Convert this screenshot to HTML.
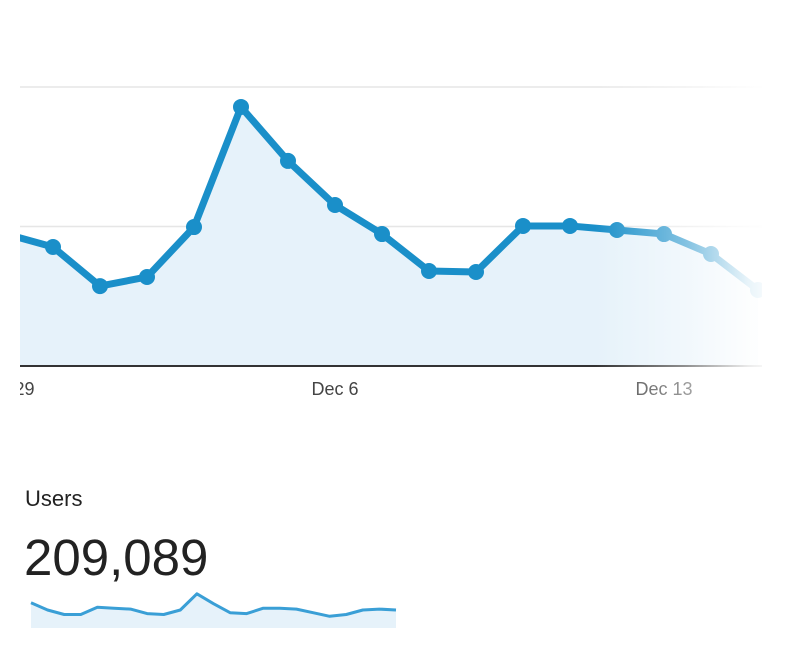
<!DOCTYPE html>
<html><head><meta charset="utf-8"><style>
html,body{margin:0;padding:0;background:#fff;width:800px;height:661px;overflow:hidden;font-family:"Liberation Sans",sans-serif}
</style></head><body>
<svg width="800" height="661" viewBox="0 0 800 661">
<defs>
<clipPath id="clipMain"><rect x="20" y="0" width="742" height="400"/></clipPath>
<linearGradient id="fade" x1="0" x2="1" y1="0" y2="0">
<stop offset="0" stop-color="#fff" stop-opacity="0"/>
<stop offset="0.5" stop-color="#fff" stop-opacity="0.45"/>
<stop offset="0.85" stop-color="#fff" stop-opacity="0.9"/>
<stop offset="1" stop-color="#fff" stop-opacity="1"/>
</linearGradient>
</defs>
<g id="main" clip-path="url(#clipMain)"></g>
<g id="xlabels"></g>
<rect x="595" y="60" width="180" height="345" fill="url(#fade)"/>
<text x="25" y="506" font-size="22" fill="#222">Users</text>
<text x="24" y="575" font-size="51" fill="#222">209,089</text>
<g id="spark"></g>
</svg>
<script>
const mainValues=[946,853,573,638,996,1857,1470,1154,946,681,674,1004,1004,975,946,803,545];
const gridValues=[1000,2000];
const tickLabels=["Nov 29","Dec 6","Dec 13"];
const tickIndex=[0,7,14];
const sparkValues=[28,20,15,15,23,22,21,16,15,20,38,27,17,16,22,22,21,17,13,15,20,21,20];

const NS="http://www.w3.org/2000/svg";
function mk(tag,attrs,parent){const e=document.createElementNS(NS,tag);for(const k in attrs)e.setAttribute(k,attrs[k]);parent.appendChild(e);return e;}
const xS=i=>6+47*i;
const yS=v=>366-v*0.1395;
const main=document.getElementById('main');
gridValues.forEach(g=>{
  const l=mk('line',{x1:20,x2:765,y1:yS(g),y2:yS(g),stroke:'#e6e6e6','stroke-width':1.5},main);
  
  
});
let pts=mainValues.map((v,i)=>[xS(i),yS(v)]);
const area=mk('path',{d:'M'+pts[0][0]+','+yS(0)+' L'+pts.map(p=>p.join(',')).join(' L')+' L'+pts[pts.length-1][0]+','+yS(0)+'Z',fill:'#e6f2fa'},main);


const ax=mk('line',{x1:20,x2:765,y1:366,y2:366,stroke:'#333','stroke-width':2},main);


const line=mk('polyline',{points:pts.map(p=>p.join(',')).join(' '),fill:'none',stroke:'#1a8fc9','stroke-width':7,'stroke-linejoin':'round'},main);


pts.forEach((p,i)=>{
  const c=mk('circle',{cx:p[0],cy:p[1],r:8,fill:'#1a8fc9'},main);
  
  
});
const xl=document.getElementById('xlabels');
const clipG=mk('g',{'clip-path':'url(#clipMain)'},xl);
tickLabels.forEach((t,k)=>{
  const tx=mk('text',{x:xS(tickIndex[k]),y:395,'text-anchor':'middle','font-size':18,fill:'#444'},clipG);
  tx.textContent=t;
  
  
});
const sp=document.getElementById('spark');
const sx=i=>31+i*(396-31)/(sparkValues.length-1);
const sy=v=>628-v*0.9;
const sp2=sparkValues.map((v,i)=>[sx(i),sy(v)]);
const sa=mk('path',{d:'M31,628 L'+sp2.map(p=>p.join(',')).join(' L')+' L396,628Z',fill:'#e6f2fa'},sp);


const sl=mk('polyline',{points:sp2.map(p=>p.join(',')).join(' '),fill:'none',stroke:'#3a9fd6','stroke-width':3,'stroke-linejoin':'round'},sp);


</script>
</body></html>
